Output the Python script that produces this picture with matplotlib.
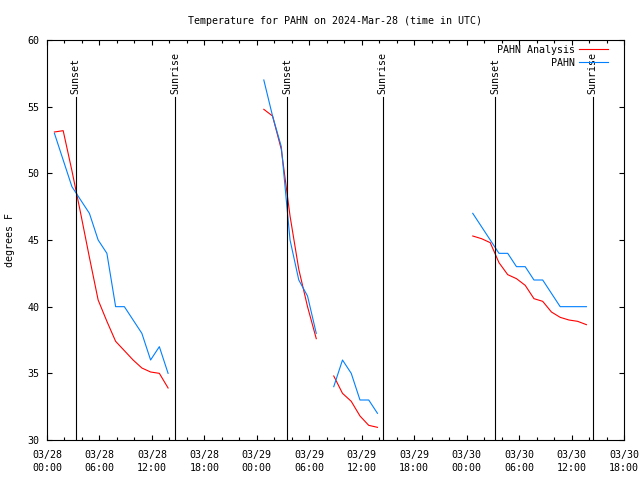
import numpy as np
import matplotlib
matplotlib.use("Agg")
import matplotlib.pyplot as plt
from matplotlib.ticker import MultipleLocator

# hours since 2024-03-28 00:00 UTC; NaN separates gaps
obs_hours = [0.85, 1.85, 2.85, 3.85, 4.85, 5.85, 6.85, 7.85, 8.85, 9.85, 10.85, 11.85, 12.85, 13.85, np.nan,
             24.8, 25.8, 26.8, 27.8, 28.8, 29.8, 30.8, np.nan,
             32.8, 33.8, 34.8, 35.8, 36.8, 37.8, np.nan,
             48.7, 49.7, 50.7, 51.7, 52.7, 53.7, 54.7, 55.7, 56.7, 57.7, 58.7, 59.7, 60.7, 61.7]
obs_temp = [53, 51, 49, 48, 47, 45, 44, 40, 40, 39, 38, 36, 37, 35, np.nan,
            57, 54.3, 52, 45, 42, 40.8, 38, np.nan,
            34, 36, 35, 33, 33, 32, np.nan,
            47, 46, 45, 44, 44, 43, 43, 42, 42, 41, 40, 40, 40, 40]
ana_temp = [53.1, 53.2, 50.2, 47.0, 43.7, 40.5, 38.9, 37.4, 36.7, 36.0, 35.4, 35.1, 35.0, 33.9, np.nan,
            54.8, 54.3, 51.8, 46.8, 42.8, 40.0, 37.6, np.nan,
            34.8, 33.5, 32.9, 31.8, 31.1, 30.95, np.nan,
            45.3, 45.1, 44.8, 43.3, 42.4, 42.1, 41.6, 40.6, 40.4, 39.6, 39.2, 39.0, 38.9, 38.65]

sunset_hours = [3.3, 27.45, 51.3]
sunrise_hours = [14.65, 38.4, 62.4]

tick_hours = [0, 6, 12, 18, 24, 30, 36, 42, 48, 54, 60, 66]
tick_labels = ["03/28\n00:00", "03/28\n06:00", "03/28\n12:00", "03/28\n18:00",
               "03/29\n00:00", "03/29\n06:00", "03/29\n12:00", "03/29\n18:00",
               "03/30\n00:00", "03/30\n06:00", "03/30\n12:00", "03/30\n18:00"]

FS = 7.2
plt.rcParams['font.family'] = ['DejaVu Sans Mono']
plt.rcParams['font.size'] = FS

fig = plt.figure(figsize=(6.4, 4.8), dpi=100)
ax = fig.add_axes([47/640, 40/480, (624-47)/640, 400/480])

ax.plot(obs_hours, ana_temp, color='#ff0000', lw=0.8, label='PAHN Analysis')
ax.plot(obs_hours, obs_temp, color='#0080ff', lw=0.8, label='PAHN')

line_top = 55.72
for h in sunset_hours:
    ax.plot([h, h], [30, line_top], color='black', lw=0.8)
    ax.text(h, 55.95, 'Sunset', rotation=90, ha='center', va='bottom', fontsize=FS)
for h in sunrise_hours:
    ax.plot([h, h], [30, line_top], color='black', lw=0.8)
    ax.text(h, 55.95, 'Sunrise', rotation=90, ha='center', va='bottom', fontsize=FS)

ax.set_xlim(0, 66)
ax.set_ylim(30, 60)
ax.set_xticks(tick_hours)
ax.set_xticklabels(tick_labels, linespacing=1.3)
ax.xaxis.set_minor_locator(MultipleLocator(2))
ax.set_yticks([30, 35, 40, 45, 50, 55, 60])
ax.tick_params(which='both', direction='in', top=True, right=True, width=0.8)
ax.tick_params(which='major', length=3.6)
ax.tick_params(which='minor', length=2.2)
ax.tick_params(axis='x', pad=7.5)
ax.tick_params(axis='y', pad=5.5)
for s in ax.spines.values():
    s.set_linewidth(0.8)

ax.set_title('Temperature for PAHN on 2024-Mar-28 (time in UTC)', fontsize=FS, pad=11.5)
ax.set_ylabel('degrees F', fontsize=FS, labelpad=9)

leg = ax.legend(loc='upper right', frameon=False, markerfirst=False, handlelength=2.9,
                handletextpad=0.35, borderaxespad=0.0, borderpad=0.2, labelspacing=0.3,
                bbox_to_anchor=(0.9757, 0.9925))
for t in leg.get_texts():
    t.set_ha('right')
leg._legend_box.align = 'right'

fig.savefig('out.png', dpi=100)
